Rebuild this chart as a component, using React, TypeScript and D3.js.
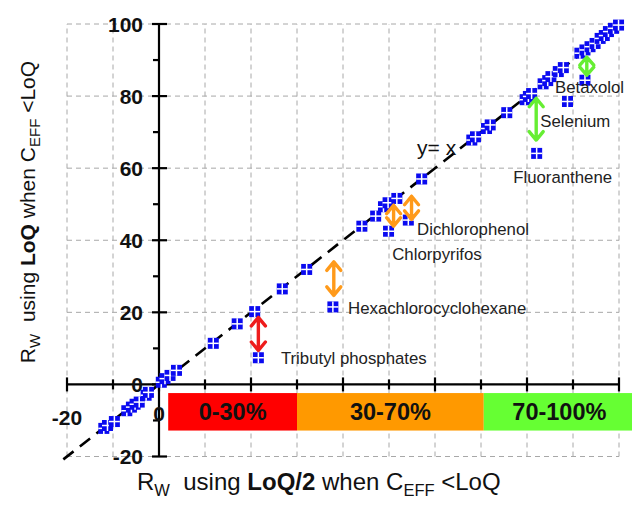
import React from "react";
import * as d3 from "d3";

// ---- data ----
const pointsX = [-12.0, -11.2, -9.7, -7.0, -6.0, -5.2, -4.3, -2.8, -2.3, 0.5, 1.3, 2.4, 3.8, 11.8, 17.0, 20.8, 26.8, 32.1, 44.1, 47.1, 48.8, 49.8, 51.7, 57.1, 68.0, 68.8, 71.2, 72.0, 75.6, 79.6, 80.3, 81.0, 83.5, 84.5, 85.2, 86.8, 87.9, 91.5, 92.6, 93.7, 94.8, 95.9, 96.8, 97.7, 98.8, 99.9, 88.8];
const pointsY = [-12.2, -11.4, -10.3, -7.3, -6.3, -5.5, -4.9, -3.0, -2.2, 0.6, 1.6, 2.5, 3.9, 11.4, 16.8, 20.2, 26.5, 31.9, 43.9, 46.7, 49.3, 50.4, 51.6, 57.0, 67.8, 68.7, 71.0, 72.0, 75.4, 79.0, 79.9, 80.7, 83.4, 84.3, 85.4, 86.8, 87.9, 91.9, 92.8, 93.7, 94.6, 96.0, 96.8, 97.9, 98.8, 99.7, 78.5];

const compoundNames = ["Tributyl phosphates", "Hexachlorocyclohexane", "Chlorpyrifos", "Dichlorophenol", "Fluoranthene", "Selenium", "Betaxolol"];
const compoundX = [21.6, 37.8, 49.9, 54.2, 82.1, null, 92.6];
const compoundY = [7.4, 21.5, 42.5, 45.6, 64.1, null, 84.4];
const labelX = [26.5, 41.1, 50.7, 56.1, 77.0, 82.9, 86.1];
const labelY = [5.6, 19.4, 34.4, 41.4, 55.8, 71.4, 80.8];

const arrowX = [21.6, 38.0, 51.0, 54.9, 82.0, 93.0];
const arrowTop = [18.6, 34.0, 49.7, 52.2, 79.4, 90.8];
const arrowBottom = [9.4, 24.7, 43.9, 45.8, 67.8, 85.8];
const arrowColor = ["#ee1c1c", "#ff9a1a", "#ff9a1a", "#ff9a1a", "#66ee33", "#66ee33"];

const bandLabels = ["0-30%", "30-70%", "70-100%"];
const bandFrom = [2, 30, 70.6];
const bandTo = [30, 70.6, 104];
const bandColors = ["#ff0000", "#ff9900", "#66ff33"];

const yMajorTicks = [-20, 0, 20, 40, 60, 80, 100];
const yMinorTicks = [-10, 10, 30, 50, 70, 90];
const xMajorTicks = [-20, 0, 20, 40, 60, 80, 100];
const xMinorTicks = [-10, 10, 30, 50, 70, 90];
const xGrid = d3.range(-20, 101, 10);
const yGrid = d3.range(-20, 101, 20);

const FONT = "'Liberation Sans', Arial, sans-serif";

export default function App() {
  const W = 632, H = 508;
  const x = d3.scaleLinear().domain([-20, 100]).range([67, 619]);
  const y = d3.scaleLinear().domain([-20, 100]).range([456.5, 24]);
  const x0 = x(0), y0 = y(0);

  const diag = d3.line<number>().x((d) => x(d)).y((d) => y(d));

  const arrowPath = (i: number) => {
    const ax = x(arrowX[i]);
    const t = y(arrowTop[i]);
    const b = y(arrowBottom[i]);
    const len = b - t;
    const h = Math.min(8.5, len / 2 - 1);
    const w = 7;
    return `M${ax},${t}L${ax},${b}M${ax - w},${t + h}L${ax},${t}L${ax + w},${t + h}M${ax - w},${b - h}L${ax},${b}L${ax + w},${b - h}`;
  };

  const marker = (px: number, py: number, key: string) => (
    <g key={key} transform={`translate(${px},${py})`}>
      <rect x={-5.5} y={-5.5} width={11} height={11} fill="#0a0af0" />
      <line x1={0} y1={-5.5} x2={0} y2={5.5} stroke="#fff" strokeWidth={1.5} />
      <line x1={-5.5} y1={0} x2={5.5} y2={0} stroke="#fff" strokeWidth={1.5} />
    </g>
  );

  return (
    <svg width={W} height={H} style={{ position: "absolute", left: 0, top: 0, background: "#fff" }} fontFamily={FONT}>
      {/* grid */}
      <g stroke="#a8a8a8" strokeWidth={1} strokeDasharray="5,4" fill="none">
        {xGrid.map((v) => (
          <line key={"gx" + v} x1={x(v)} x2={x(v)} y1={y(-20)} y2={y(100)} />
        ))}
        {yGrid.map((v) => (
          <line key={"gy" + v} x1={x(-20)} x2={x(100)} y1={y(v)} y2={y(v)} />
        ))}
      </g>

      {/* bands */}
      {bandLabels.map((lab, i) => (
        <g key={lab}>
          <rect x={x(bandFrom[i])} width={x(bandTo[i]) - x(bandFrom[i])} y={y(-2.4)} height={y(-12.8) - y(-2.4)} fill={bandColors[i]} />
          <text x={(x(bandFrom[i]) + x(Math.min(bandTo[i], 100))) / 2 + (i === 2 ? 8 : 0)} y={y(-7.6) + 8} textAnchor="middle" fontWeight="bold" fontSize={23.5} fill="#111">
            {lab}
          </text>
        </g>
      ))}

      {/* y = x line */}
      <path d={diag([-20.8, 100]) as string} stroke="#000" strokeWidth={2.6} strokeDasharray="13,8" fill="none" />

      {/* axes */}
      <g stroke="#000" strokeWidth={2.2}>
        <line x1={x0} x2={x0} y1={y(100)} y2={y(-20)} />
        <line x1={x(-20)} x2={x(100)} y1={y0} y2={y0} />
        {yMajorTicks.map((v) => (
          <line key={"ym" + v} x1={x0 - 7} x2={x0 + 8} y1={y(v)} y2={y(v)} />
        ))}
        {yMinorTicks.map((v) => (
          <line key={"yn" + v} x1={x0 - 6} x2={x0} y1={y(v)} y2={y(v)} />
        ))}
        {xMajorTicks.map((v) => (
          <line key={"xm" + v} x1={x(v)} x2={x(v)} y1={y0 - 7} y2={y0 + 7} />
        ))}
        {xMinorTicks.map((v) => (
          <line key={"xn" + v} x1={x(v)} x2={x(v)} y1={y0 - 5} y2={y0 + 5} />
        ))}
      </g>

      {/* tick labels */}
      <g fontWeight="bold" fontSize={21} fill="#111">
        {yMajorTicks.map((v) => (
          <text key={"yl" + v} x={x0 - 16} y={y(v) + 7.5} textAnchor="end">
            {v}
          </text>
        ))}
        <text x={x(-20)} y={y0 + 41} textAnchor="middle">-20</text>
        <text x={x0} y={y0 + 37} textAnchor="middle">0</text>
      </g>

      {/* points */}
      {pointsX.map((v, i) => marker(x(v), y(pointsY[i]), "p" + i))}
      {compoundX.map((v, i) => (v === null ? null : marker(x(v), y(compoundY[i] as number), "c" + i)))}

      {/* arrows */}
      {arrowX.map((_, i) => (
        <path key={"a" + i} d={arrowPath(i)} stroke={arrowColor[i]} strokeWidth={3.4} fill="none" strokeLinecap="round" strokeLinejoin="round" />
      ))}

      {/* annotations */}
      <g fontSize={16.8} fill="#222">
        {compoundNames.map((n, i) => (
          <text key={n} x={x(labelX[i])} y={y(labelY[i])}>
            {n}
          </text>
        ))}
      </g>
      <text x={x(56.1)} y={y(63.6)} fontSize={21} fill="#111">y= x</text>

      {/* axis titles */}
      <text x={137} y={490} fontSize={24} fill="#111" style={{ whiteSpace: "pre" }}>
        R<tspan fontSize={16.5} dy={6}>W</tspan>
        <tspan dy={-6}>{"  using "}</tspan>
        <tspan fontWeight="bold">LoQ/2</tspan>
        <tspan>{" when C"}</tspan>
        <tspan fontSize={16.5} dy={6}>EFF</tspan>
        <tspan dy={-6}>{" <LoQ"}</tspan>
      </text>
      <text transform="translate(35,212) rotate(-90)" textAnchor="middle" fontSize={21} fill="#111" style={{ whiteSpace: "pre" }}>
        R<tspan fontSize={15} dy={5}>W</tspan>
        <tspan dy={-5}>{"  using "}</tspan>
        <tspan fontWeight="bold">LoQ</tspan>
        <tspan>{" when C"}</tspan>
        <tspan fontSize={15} dy={5}>EFF</tspan>
        <tspan dy={-5}>{" <LoQ"}</tspan>
      </text>
    </svg>
  );
}
